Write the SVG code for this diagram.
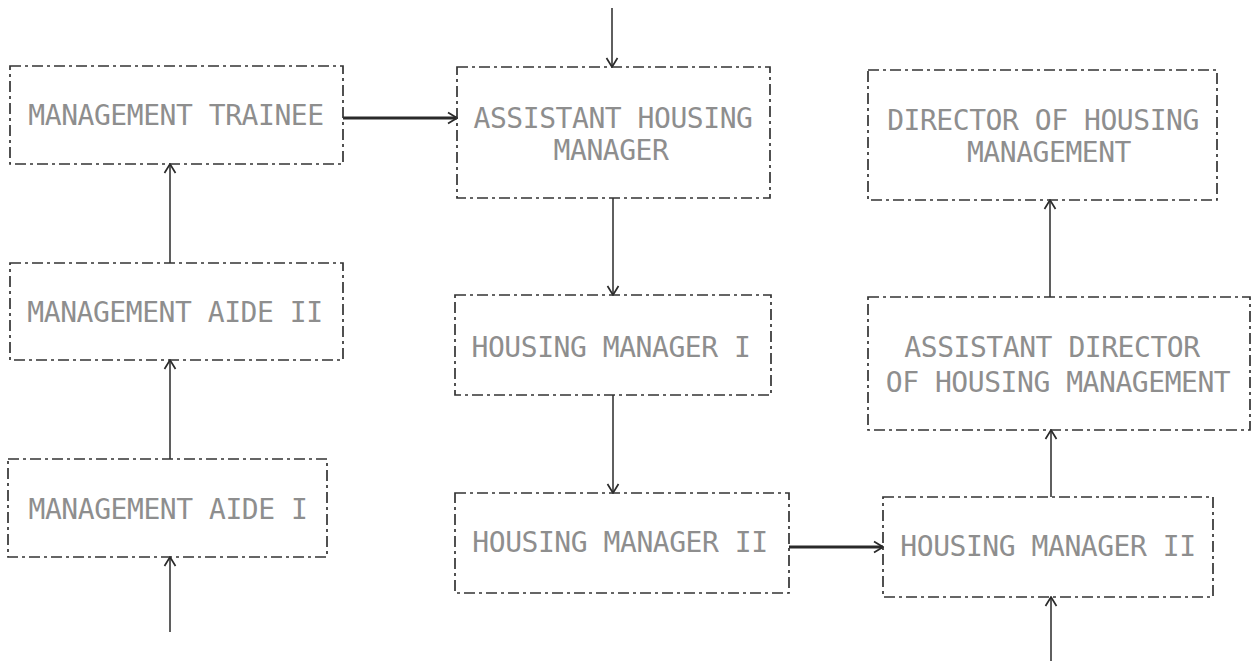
<svg xmlns="http://www.w3.org/2000/svg" width="1255" height="661" viewBox="0 0 1255 661">
  <style>
    .box { fill: none; stroke: #333333; stroke-width: 1.7; stroke-dasharray: 11 4 3 4; }
    .lbl { font-family: "DejaVu Sans Mono", "Liberation Mono", monospace; font-size: 28px; letter-spacing: -0.45px; fill: #8e8e8e; text-anchor: middle; }
    .wire { fill: none; stroke: #2a2a2a; stroke-width: 1.5; }
    .wire.thick { stroke-width: 3; }
  </style>
  <defs>
    <!-- open V arrowhead used by every connector -->
    <marker id="head" viewBox="0 0 14 14" refX="13" refY="7" markerWidth="14" markerHeight="14" markerUnits="userSpaceOnUse" orient="auto">
      <path d="M4,1.5 L13,7 L4,12.5" fill="none" stroke="#2a2a2a" stroke-width="1.7"/>
    </marker>
  </defs>

  <rect width="1255" height="661" fill="#ffffff"/>

  <!-- connectors -->
  <g id="connectors">
    <line class="wire" x1="612" y1="8" x2="612" y2="67" marker-end="url(#head)"/>
    <line class="wire thick" x1="343" y1="118" x2="457" y2="118" marker-end="url(#head)"/>
    <line class="wire" x1="613" y1="198" x2="613" y2="295" marker-end="url(#head)"/>
    <line class="wire" x1="613" y1="395" x2="613" y2="493" marker-end="url(#head)"/>
    <line class="wire thick" x1="789" y1="547" x2="883" y2="547" marker-end="url(#head)"/>
    <line class="wire" x1="1051" y1="661" x2="1051" y2="597" marker-end="url(#head)"/>
    <line class="wire" x1="1051" y1="497" x2="1051" y2="430" marker-end="url(#head)"/>
    <line class="wire" x1="1050" y1="297" x2="1050" y2="200" marker-end="url(#head)"/>
    <line class="wire" x1="170" y1="632" x2="170" y2="557" marker-end="url(#head)"/>
    <line class="wire" x1="170" y1="459" x2="170" y2="360" marker-end="url(#head)"/>
    <line class="wire" x1="170" y1="263" x2="170" y2="164" marker-end="url(#head)"/>
  </g>

  <!-- left column -->
  <g id="management-trainee">
    <rect class="box" x="10" y="66" width="333" height="98"/>
    <text class="lbl" x="176" y="125">MANAGEMENT TRAINEE</text>
  </g>
  <g id="management-aide-2">
    <rect class="box" x="10" y="263" width="333" height="97"/>
    <text class="lbl" x="175" y="322">MANAGEMENT AIDE II</text>
  </g>
  <g id="management-aide-1">
    <rect class="box" x="8" y="459" width="319" height="98"/>
    <text class="lbl" x="168" y="519">MANAGEMENT AIDE I</text>
  </g>

  <!-- middle column -->
  <g id="assistant-housing-manager">
    <rect class="box" x="457" y="67" width="313" height="131"/>
    <text class="lbl" x="613" y="128">ASSISTANT HOUSING</text>
    <text class="lbl" x="611" y="160">MANAGER</text>
  </g>
  <g id="housing-manager-1">
    <rect class="box" x="455" y="295" width="316" height="100"/>
    <text class="lbl" x="611" y="357">HOUSING MANAGER I</text>
  </g>
  <g id="housing-manager-2a">
    <rect class="box" x="455" y="493" width="334" height="100"/>
    <text class="lbl" x="620" y="552">HOUSING MANAGER II</text>
  </g>

  <!-- right column -->
  <g id="director">
    <rect class="box" x="868" y="70" width="349" height="130"/>
    <text class="lbl" x="1043" y="130">DIRECTOR OF HOUSING</text>
    <text class="lbl" x="1049" y="162">MANAGEMENT</text>
  </g>
  <g id="assistant-director">
    <rect class="box" x="868" y="297" width="382" height="133"/>
    <text class="lbl" x="1052" y="357">ASSISTANT DIRECTOR</text>
    <text class="lbl" x="1058" y="392">OF HOUSING MANAGEMENT</text>
  </g>
  <g id="housing-manager-2b">
    <rect class="box" x="883" y="497" width="330" height="100"/>
    <text class="lbl" x="1048" y="556">HOUSING MANAGER II</text>
  </g>
</svg>
